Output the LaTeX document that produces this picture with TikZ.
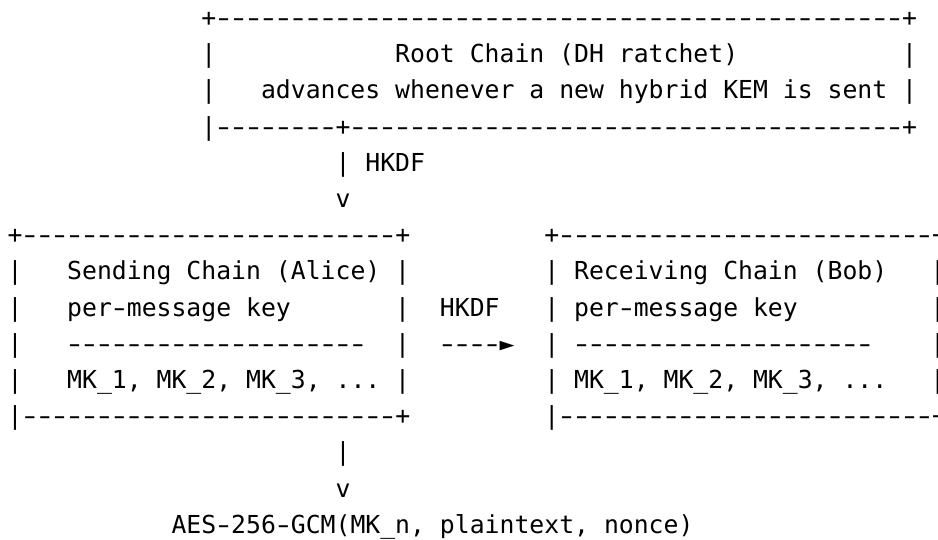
\documentclass[tikz,border=0pt]{standalone}
\usepackage{fontspec}
\setmonofont{DejaVu Sans Mono}
% a hyphen drawn wider, kept in its own character cell
\newcommand\hy{\makebox[0.602em][c]{\scalebox{1.45}[1]{-}}}
% a run of #1 such hyphens
\ExplSyntaxOn
\cs_new:Npn \hyrun #1 { \prg_replicate:nn {#1} {\hy} }
\ExplSyntaxOff
% character grid: column width, row height and origin (1 unit = 1pt)
\def\cw{14.91}
\def\rh{36.2}
\def\ox{7.55}
\def\oy{26.5}
\tikzset{
  gridtext/.style={anchor=base west, inner sep=0pt, outer sep=0pt,
    font=\ttfamily\fontsize{24.77}{30}\selectfont, text=black},
}
% \cell{name}{column}{row}{text}
\newcommand\cell[4]{%
  \node[gridtext] (#1) at ({\ox+\cw*#2},{-(\oy+\rh*#3)}) {#4};}
\begin{document}
\begin{tikzpicture}[x=1pt,y=1pt]
\useasboundingbox (0,0) rectangle (938,-539);
\clip (0,0) rectangle (938,-539);
\fill[white] (0,0) rectangle (938,-539);
% root chain box
\cell{rootTop}{13}{0}{+\hyrun{46}+}
\cell{rootL1}{13}{1}{|}
\cell{rootTitle}{26}{1}{Root Chain (DH ratchet)}
\cell{rootR1}{60}{1}{|}
\cell{rootL2}{13}{2}{|}
\cell{rootNote}{17}{2}{advances whenever a new hybrid KEM is sent}
\cell{rootR2}{60}{2}{|}
\cell{rootBottom}{13}{3}{|\hyrun{8}+\hyrun{37}+}
% root -> sending chain
\cell{downA}{22}{4}{|}
\cell{hkdfA}{24}{4}{HKDF}
\cell{headA}{22}{5}{v}
% sending chain box
\cell{sendTop}{0}{6}{+\hyrun{25}+}
\cell{sendL1}{0}{7}{|}
\cell{sendTitle}{4}{7}{Sending Chain (Alice)}
\cell{sendR1}{26}{7}{|}
\cell{sendL2}{0}{8}{|}
\cell{sendKey}{4}{8}{per\hy message key}
\cell{sendR2}{26}{8}{|}
\cell{sendL3}{0}{9}{|}
\cell{sendRule}{4}{9}{\hyrun{20}}
\cell{sendR3}{26}{9}{|}
\cell{sendL4}{0}{10}{|}
\cell{sendKeys}{4}{10}{MK\_1, MK\_2, MK\_3, ...}
\cell{sendR4}{26}{10}{|}
\cell{sendBottom}{0}{11}{|\hyrun{25}+}
% sending -> receiving chain
\cell{hkdfB}{29}{8}{HKDF}
\cell{arrowB}{29}{9}{\hyrun{4}►}
% receiving chain box (its right edge sits at the page edge)
\cell{recvTop}{36}{6}{+\hyrun{25}+}
\cell{recvL1}{36}{7}{|}
\cell{recvTitle}{38}{7}{Receiving Chain (Bob)}
\cell{recvR1}{61.9}{7}{|}
\cell{recvL2}{36}{8}{|}
\cell{recvKey}{38}{8}{per\hy message key}
\cell{recvR2}{61.9}{8}{|}
\cell{recvL3}{36}{9}{|}
\cell{recvRule}{38}{9}{\hyrun{20}}
\cell{recvR3}{61.9}{9}{|}
\cell{recvL4}{36}{10}{|}
\cell{recvKeys}{38}{10}{MK\_1, MK\_2, MK\_3, ...}
\cell{recvR4}{61.9}{10}{|}
\cell{recvBottom}{36}{11}{|\hyrun{25}+}
% sending chain -> cipher
\cell{downC}{22}{12}{|}
\cell{headC}{22}{13}{v}
\cell{cipher}{11}{14}{AES\hy 256\hy GCM(MK\_n, plaintext, nonce)}
\end{tikzpicture}
\end{document}
